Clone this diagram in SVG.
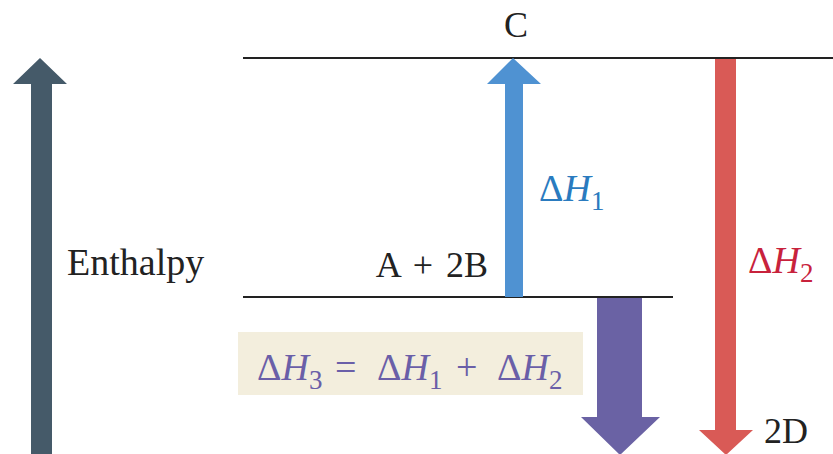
<svg xmlns="http://www.w3.org/2000/svg" width="833" height="454" viewBox="0 0 833 454">
<style>
.t{font-size:36px;fill:#222}
.eq{font-size:38px}
.it{font-style:italic}
.sub{font-size:27px}
.lvl{stroke:#222;stroke-width:2;fill:none}
</style>
<rect width="833" height="454" fill="#ffffff"/>
<g id="axis">
<polygon points="31,454 31,84 13,84 40,58 67,84 52,84 52,454" fill="#455a69"/>
<text class="t" x="67" y="275" font-family="Liberation Serif, serif" style="font-size:38px">Enthalpy</text>
</g>
<g id="levels">
<line class="lvl" x1="243" y1="58" x2="833" y2="58"/>
<line class="lvl" x1="243" y1="297" x2="673" y2="297"/>
</g>
<g font-family="Liberation Serif, DejaVu Serif, serif">
<g id="node-C"><text class="t" x="516" y="37" text-anchor="middle">C</text></g>
<g id="node-AB"><text class="t" x="488" y="277" text-anchor="end">A <tspan dx="4">+</tspan><tspan dx="4"> 2B</tspan></text></g>
<g id="node-2D"><text class="t" x="764" y="443">2D</text></g>
<g id="connectors">
<g id="dH1">
<polygon points="505,297 505,84 487,84 513,58 541,84 523,84 523,297" fill="#4f92d2"/>
<text class="eq" x="539" y="201" fill="#2a7bbf">Δ<tspan class="it">H</tspan><tspan class="sub" dy="9">1</tspan></text>
</g>
<g id="dH2">
<polygon points="715,59 715,430 699,430 726,455 753,430 736,430 736,59" fill="#d95a56"/>
<text class="eq" x="748" y="273" fill="#c8223c">Δ<tspan class="it">H</tspan><tspan class="sub" dy="9">2</tspan></text>
</g>
<g id="dH3">
<polygon points="597,298 597,417 581,417 620,455 660,417 642,417 642,298" fill="#6a62a4"/>
</g>
</g>
<g id="equation">
<rect x="238" y="332" width="345" height="63" fill="#f3eedd"/>
<text class="eq" y="380" fill="#6a5fa8"><tspan x="257">Δ</tspan><tspan class="it">H</tspan><tspan class="sub" dy="9">3</tspan><tspan x="335" dy="-9">=</tspan><tspan x="377">Δ</tspan><tspan class="it">H</tspan><tspan class="sub" dy="9">1</tspan><tspan x="456" dy="-9">+</tspan><tspan x="497">Δ</tspan><tspan class="it">H</tspan><tspan class="sub" dy="9">2</tspan></text>
</g>
</g>
</svg>
